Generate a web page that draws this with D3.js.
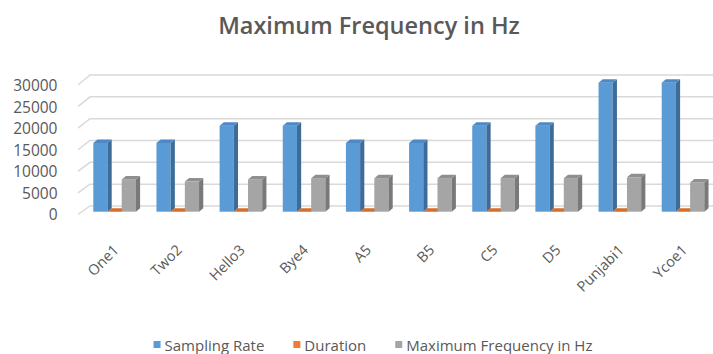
<!DOCTYPE html>
<html>
  <head>
    <meta charset="utf-8">
    <title>Maximum Frequency in Hz</title>
    <script src="https://d3js.org/d3.v7.min.js"></script>
    <style>
      body { margin: 0; background: #fff; }
      text { font-family: "Open Sans", sans-serif; fill: #595959; }
    </style>
  </head>
  <body>
    <svg width="713" height="354"></svg>

    <script>
      // data
      var categories = ["One1", "Two2", "Hello3", "Bye4", "A5", "B5", "C5", "D5", "Punjabi1", "Ycoe1"];
      var series = ["Sampling Rate", "Duration", "Maximum Frequency in Hz"];
      var samplingRate = [16000, 16000, 20000, 20000, 16000, 16000, 20000, 20000, 30000, 30000];
      var duration = [2, 2, 2, 2, 1, 1, 1, 1, 3, 3];
      var maxFreq = [7500, 7000, 7500, 7800, 7800, 7800, 7800, 7800, 8000, 6800];
      var yTicks = [0, 5000, 10000, 15000, 20000, 25000, 30000];

      // colours: front, side, top
      var colors = {
        "Sampling Rate": ["#5b9bd5", "#3d6c99", "#4d89c4"],
        "Duration": ["#ed7d31", "#b35d22", "#d46e29"],
        "Maximum Frequency in Hz": ["#a5a5a5", "#797979", "#8f8f8f"]
      };

      var svg = d3.select("svg");

      // scales
      var x = d3.scaleBand().domain(categories).range([83, 714.6])
        .paddingInner(0.3255).paddingOuter(0.163);
      var xs = d3.scaleBand().domain(series).range([0, x.bandwidth()]);
      var yFront = d3.scaleLinear().domain([0, 30000]).range([211.7, 82.7]);
      var yBack = d3.scaleLinear().domain([0, 30000]).range([206, 75]);
      var yWall = d3.scaleLinear().domain([0, 30000]).range([214.5, 85]);
      var dx = 4.2, dy = -3.5;

      // gridlines (back wall + left wall)
      var grid = svg.append("g").attr("stroke", "#d9d9d9").attr("stroke-width", 1.5).attr("fill", "none");
      grid.selectAll("path").data(yTicks).enter().append("path")
        .attr("d", function(v) {
          return "M78," + yWall(v) + "L90," + yBack(v) + "L713," + yBack(v);
        });

      // y labels
      svg.append("g").selectAll("text").data(yTicks).enter().append("text")
        .attr("x", 57.5)
        .attr("y", function(v) { return yFront(v) + 3; })
        .attr("dy", "0.35em")
        .attr("text-anchor", "end")
        .style("font-size", "15.5px")
        .text(function(v) { return v; });

      // bar table
      var bars = [];
      categories.forEach(function(c, i) {
        bars.push({ cat: c, s: series[0], v: samplingRate[i] });
        bars.push({ cat: c, s: series[1], v: duration[i] });
        bars.push({ cat: c, s: series[2], v: maxFreq[i] });
      });

      var w = xs.bandwidth();
      function pts(a) { return a.map(function(p) { return p.join(","); }).join(" "); }

      var g = svg.append("g").selectAll("g").data(bars).enter().append("g");
      // front
      g.append("rect")
        .attr("x", function(d) { return x(d.cat) + xs(d.s); })
        .attr("y", function(d) { return yFront(d.v); })
        .attr("width", w)
        .attr("height", function(d) { return yFront(0) - yFront(d.v); })
        .attr("fill", function(d) { return colors[d.s][0]; });
      // side
      g.append("polygon")
        .attr("points", function(d) {
          var x1 = x(d.cat) + xs(d.s) + w, y0 = yFront(0), y1 = yFront(d.v);
          return pts([[x1, y1], [x1 + dx, y1 + dy], [x1 + dx, y0 + dy], [x1, y0]]);
        })
        .attr("fill", function(d) { return colors[d.s][1]; });
      // top
      g.append("polygon")
        .attr("points", function(d) {
          var x0 = x(d.cat) + xs(d.s), y1 = yFront(d.v);
          return pts([[x0, y1], [x0 + dx, y1 + dy], [x0 + w + dx, y1 + dy], [x0 + w, y1]]);
        })
        .attr("fill", function(d) { return colors[d.s][2]; });

      // x labels
      svg.append("g").selectAll("text").data(categories).enter().append("text")
        .attr("transform", function(c) {
          return "translate(" + (x(c) + x.bandwidth() / 2 + 5) + ",251) rotate(-45)";
        })
        .attr("text-anchor", "end")
        .style("font-size", "14.5px")
        .text(function(c) { return c; });

      // title
      svg.append("text")
        .attr("x", 369).attr("y", 33.5)
        .attr("text-anchor", "middle")
        .style("font-size", "23.5px")
        .style("font-weight", 600)
        .text("Maximum Frequency in Hz");

      // legend, centred
      var legend = svg.append("g");
      var items = legend.selectAll("g").data(series).enter().append("g");
      items.append("rect").attr("width", 7).attr("height", 7).attr("y", -4.5)
        .attr("fill", function(s) { return colors[s][0]; });
      items.append("text").attr("x", 11).attr("dy", "0.35em")
        .style("font-size", "15px")
        .text(function(s) { return s; });
      var xPos = 0;
      items.each(function() {
        var it = d3.select(this);
        it.attr("transform", "translate(" + xPos + ",0)");
        xPos += 11 + it.select("text").node().getComputedTextLength() + 29;
      });
      xPos -= 29;
      legend.attr("transform", "translate(" + (373 - xPos / 2) + ",345.5)");
    </script>
  </body>
</html>
